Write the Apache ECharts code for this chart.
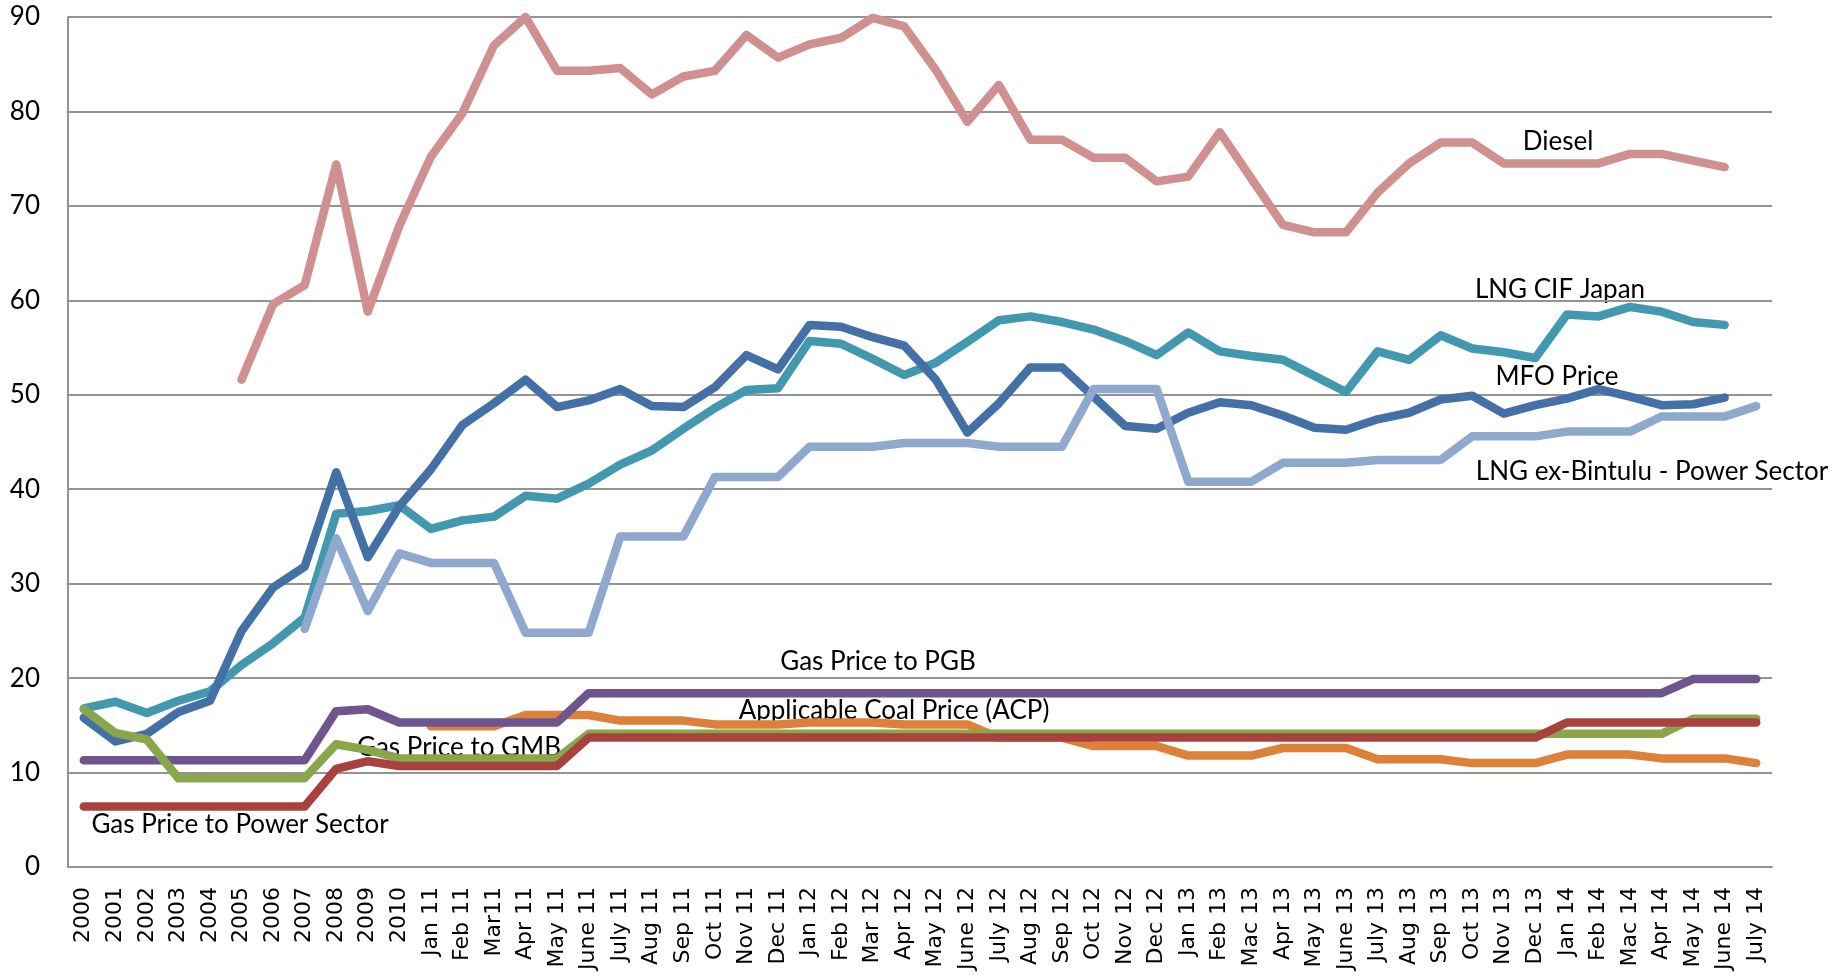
<!DOCTYPE html>
<html>
<head>
<meta charset="utf-8">
<title>Fuel and gas prices 2000 - July 2014</title>
<script src="https://cdn.jsdelivr.net/npm/echarts@6/dist/echarts.min.js"></script>
<style>
  html, body { margin: 0; padding: 0; background: #fff; }
  #chart { width: 1845px; height: 980px; }
</style>
</head>
<body>
<div id="chart"></div>
<script>
// x axis categories: yearly to 2010, then monthly
const periods = ['2000', '2001', '2002', '2003', '2004', '2005', '2006', '2007', '2008', '2009', '2010',
  'Jan 11', 'Feb 11', 'Mar11', 'Apr 11', 'May 11', 'June 11', 'July 11', 'Aug 11', 'Sep 11', 'Oct 11', 'Nov 11', 'Dec 11',
  'Jan 12', 'Feb 12', 'Mar 12', 'Apr 12', 'May 12', 'June 12', 'July 12', 'Aug 12', 'Sep 12', 'Oct 12', 'Nov 12', 'Dec 12',
  'Jan 13', 'Feb 13', 'Mac 13', 'Apr 13', 'May 13', 'June 13', 'July 13', 'Aug 13', 'Sep 13', 'Oct 13', 'Nov 13', 'Dec 13',
  'Jan 14', 'Feb 14', 'Mac 14', 'Apr 14', 'May 14', 'June 14', 'July 14'];

const diesel = [null, null, null, null, null, 51.6, 59.6, 61.6, 74.4, 58.8, 67.9,
  75.2, 79.8, 87.0, 90.0, 84.3, 84.3, 84.6, 81.8, 83.7, 84.3, 88.1, 85.7,
  87.1, 87.8, 89.9, 89.0, 84.4, 78.9, 82.8, 77.0, 77.0, 75.1, 75.1, 72.6,
  73.1, 77.8, 72.9, 68.0, 67.2, 67.2, 71.4, 74.5, 76.7, 76.7, 74.5, 74.5,
  74.5, 74.5, 75.5, 75.5, 74.8, 74.1, null];

const lngCifJapan = [16.8, 17.5, 16.3, 17.6, 18.6, 21.4, 23.7, 26.4, 37.4, 37.7, 38.3,
  35.8, 36.7, 37.1, 39.3, 39.0, 40.6, 42.6, 44.1, 46.4, 48.6, 50.5, 50.7,
  55.7, 55.4, 53.8, 52.1, 53.4, 55.6, 57.9, 58.3, 57.7, 56.9, 55.7, 54.2,
  56.6, 54.6, 54.1, 53.7, 52.0, 50.3, 54.6, 53.7, 56.3, 54.9, 54.5, 53.9,
  58.5, 58.3, 59.3, 58.8, 57.7, 57.4, null];

const mfoPrice = [15.8, 13.3, 14.1, 16.4, 17.6, 25.0, 29.6, 31.8, 41.8, 32.8, 38.2,
  42.1, 46.8, 49.1, 51.6, 48.7, 49.4, 50.6, 48.8, 48.7, 50.8, 54.2, 52.7,
  57.4, 57.2, 56.1, 55.2, 51.6, 46.0, 49.1, 52.9, 52.9, 49.8, 46.7, 46.4,
  48.1, 49.2, 48.9, 47.8, 46.5, 46.3, 47.4, 48.1, 49.5, 49.9, 48.0, 48.9,
  49.6, 50.6, 49.8, 48.9, 49.0, 49.7, null];

const lngBintulu = [null, null, null, null, null, null, null, 25.2, 34.8, 27.1, 33.2,
  32.2, 32.2, 32.2, 24.8, 24.8, 24.8, 35.0, 35.0, 35.0, 41.3, 41.3, 41.3,
  44.5, 44.5, 44.5, 44.9, 44.9, 44.9, 44.5, 44.5, 44.5, 50.6, 50.6, 50.6,
  40.8, 40.8, 40.8, 42.8, 42.8, 42.8, 43.1, 43.1, 43.1, 45.6, 45.6, 45.6,
  46.1, 46.1, 46.1, 47.7, 47.7, 47.7, 48.8];

const coalAcp = [null, null, null, null, null, null, null, null, null, null, null,
  14.9, 14.9, 14.9, 16.1, 16.1, 16.1, 15.5, 15.5, 15.5, 15.1, 15.1, 15.1,
  15.3, 15.3, 15.3, 15.1, 15.1, 15.1, 13.7, 13.7, 13.7, 12.8, 12.8, 12.8,
  11.8, 11.8, 11.8, 12.6, 12.6, 12.6, 11.4, 11.4, 11.4, 11.0, 11.0, 11.0,
  11.9, 11.9, 11.9, 11.5, 11.5, 11.5, 11.0];

const gasPgb = [11.3, 11.3, 11.3, 11.3, 11.3, 11.3, 11.3, 11.3, 16.5, 16.7, 15.3,
  15.3, 15.3, 15.3, 15.3, 15.3, 18.4, 18.4, 18.4, 18.4, 18.4, 18.4, 18.4,
  18.4, 18.4, 18.4, 18.4, 18.4, 18.4, 18.4, 18.4, 18.4, 18.4, 18.4, 18.4,
  18.4, 18.4, 18.4, 18.4, 18.4, 18.4, 18.4, 18.4, 18.4, 18.4, 18.4, 18.4,
  18.4, 18.4, 18.4, 18.4, 19.9, 19.9, 19.9];

const gasGmb = [16.7, 14.2, 13.5, 9.4, 9.4, 9.4, 9.4, 9.4, 13.0, 12.4, 11.5,
  11.5, 11.5, 11.5, 11.5, 11.5, 14.1, 14.1, 14.1, 14.1, 14.1, 14.1, 14.1,
  14.1, 14.1, 14.1, 14.1, 14.1, 14.1, 14.1, 14.1, 14.1, 14.1, 14.1, 14.1,
  14.1, 14.1, 14.1, 14.1, 14.1, 14.1, 14.1, 14.1, 14.1, 14.1, 14.1, 14.1,
  14.1, 14.1, 14.1, 14.1, 15.7, 15.7, 15.7];

const gasPower = [6.4, 6.4, 6.4, 6.4, 6.4, 6.4, 6.4, 6.4, 10.4, 11.2, 10.7,
  10.7, 10.7, 10.7, 10.7, 10.7, 13.7, 13.7, 13.7, 13.7, 13.7, 13.7, 13.7,
  13.7, 13.7, 13.7, 13.7, 13.7, 13.7, 13.7, 13.7, 13.7, 13.7, 13.7, 13.7,
  13.7, 13.7, 13.7, 13.7, 13.7, 13.7, 13.7, 13.7, 13.7, 13.7, 13.7, 13.7,
  15.3, 15.3, 15.3, 15.3, 15.3, 15.3, 15.3];

const chart = echarts.init(document.getElementById('chart'));

function priceLine(name, data, color) {
  return {
    name: name,
    type: 'line',
    data: data,
    symbol: 'none',
    lineStyle: { width: 8.5, color: color, cap: 'round', join: 'round' },
    itemStyle: { color: color },
    emphasis: { disabled: true }
  };
}

// line names written next to the curves
function note(text, x, y) {
  return {
    type: 'text',
    x: x,
    y: y,
    style: {
      text: text,
      font: '26px Lato',
      fill: '#000',
      textAlign: 'center',
      textVerticalAlign: 'middle'
    }
  };
}

const gridColor = '#939393';

chart.setOption({
  animation: false,
  backgroundColor: '#fff',
  grid: { left: 68, right: 73, top: 17, bottom: 113, outerBoundsMode: 'none' },
  xAxis: {
    type: 'category',
    data: periods,
    boundaryGap: true,
    axisLine: { show: true, lineStyle: { color: gridColor, width: 2 } },
    axisTick: { show: false },
    axisLabel: {
      interval: 0,
      rotate: 90,
      margin: 20,
      color: '#000',
      fontFamily: 'DejaVu Sans',
      fontSize: 22
    },
    splitLine: { show: false }
  },
  yAxis: {
    type: 'value',
    min: 0,
    max: 90,
    interval: 10,
    axisLine: { show: true, lineStyle: { color: gridColor, width: 2 } },
    axisTick: { show: false },
    axisLabel: { margin: 28, color: '#000', fontFamily: 'Lato', fontSize: 26 },
    splitLine: { lineStyle: { color: gridColor, width: 2 } }
  },
  series: [
    priceLine('Diesel', diesel, '#D09090'),
    priceLine('LNG CIF Japan', lngCifJapan, '#4198AF'),
    priceLine('MFO Price', mfoPrice, '#4470A8'),
    priceLine('LNG ex-Bintulu - Power Sector', lngBintulu, '#8EA8CE'),
    priceLine('Applicable Coal Price (ACP)', coalAcp, '#DD8038'),
    priceLine('Gas Price to PGB', gasPgb, '#6E558D'),
    priceLine('Gas Price to GMB', gasGmb, '#89A64B'),
    priceLine('Gas Price to Power Sector', gasPower, '#A9423F')
  ],
  graphic: [
    note('Diesel', 1558, 142),
    note('LNG CIF Japan', 1560, 290),
    note('MFO Price', 1557, 377),
    note('LNG ex-Bintulu - Power Sector', 1652, 472),
    note('Gas Price to PGB', 878, 662),
    note('Applicable Coal Price (ACP)', 894, 711),
    note('Gas Price to GMB', 459, 748),
    note('Gas Price to Power Sector', 240, 825)
  ]
});
</script>
</body>
</html>
